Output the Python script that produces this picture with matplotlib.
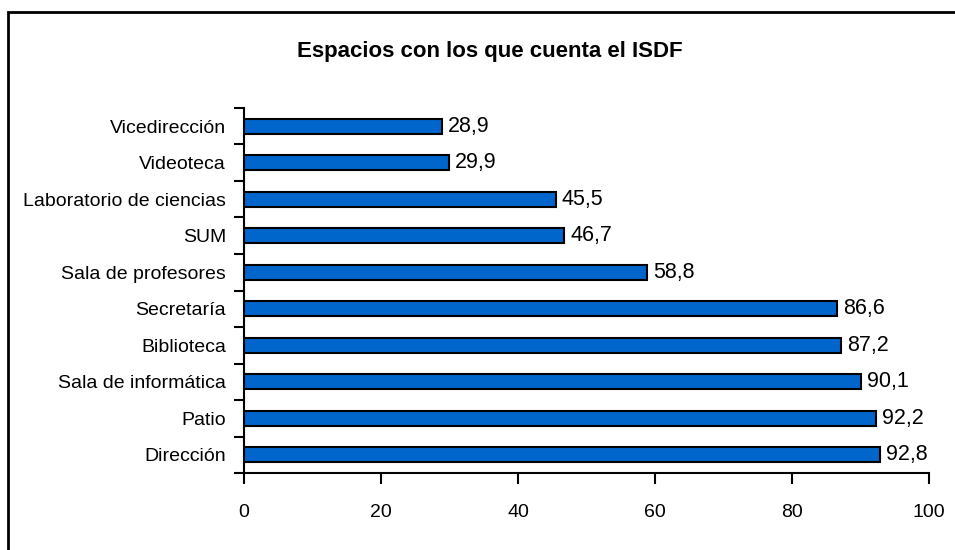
import numpy as np
import matplotlib.pyplot as plt
from matplotlib.patches import Rectangle

# datos (de abajo hacia arriba)
categorias = ["Dirección", "Patio", "Sala de informática", "Biblioteca", "Secretaría",
              "Sala de profesores", "SUM", "Laboratorio de ciencias", "Videoteca", "Vicedirección"]
valores = [92.8, 92.2, 90.1, 87.2, 86.6, 58.8, 46.7, 45.5, 29.9, 28.9]
xticks = [0, 20, 40, 60, 80, 100]

plt.rcParams['font.family'] = ['Liberation Sans', 'DejaVu Sans']

fig = plt.figure(figsize=(9.55, 5.5), dpi=100)
ax = fig.add_axes([244/955, 1 - 473/550, (929 - 244)/955, (473 - 108)/550])

y = np.arange(len(categorias))
ax.barh(y, valores, height=0.42, color='#0066CC', edgecolor='black', linewidth=1.5, zorder=3)

for yi, v in zip(y, valores):
    ax.text(v + 0.9, yi, f"{v:.1f}".replace('.', ','), va='center', ha='left', fontsize=15.5)

ax.set_xlim(0, 100)
ax.set_ylim(-0.5, len(categorias) - 0.5)
ax.set_xticks(xticks)
ax.set_xticklabels([str(t) for t in xticks], fontsize=14)
ax.set_yticks(y)
ax.set_yticklabels(categorias, fontsize=14)
ax.set_yticks(np.arange(len(categorias) + 1) - 0.5, minor=True)
ax.tick_params(axis='y', which='major', length=0, pad=13)
ax.tick_params(axis='y', which='minor', length=7, width=1.5, direction='out')
ax.tick_params(axis='x', length=8, width=1.5, direction='out', pad=14)

for s in ['top', 'right']:
    ax.spines[s].set_visible(False)
for s in ['left', 'bottom']:
    ax.spines[s].set_linewidth(1.5)

fig.text(0.513, 1 - 51/550, "Espacios con los que cuenta el ISDF", ha='center', va='center',
         fontsize=16, fontweight='bold')

fig.patches.append(Rectangle((8/955, -0.1), 2, 1.1 - 12/550, transform=fig.transFigure,
                             fill=False, edgecolor='black', linewidth=2))

fig.savefig("out.png", dpi=100)
